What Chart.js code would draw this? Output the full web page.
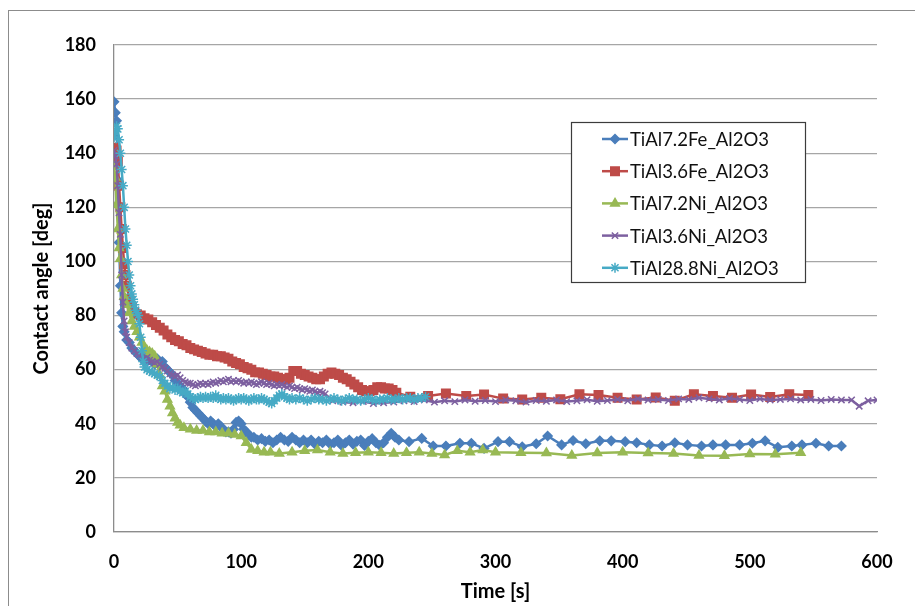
<!DOCTYPE html>
<html>
<head>
<meta charset="utf-8">
<script src="https://cdn.jsdelivr.net/npm/chart.js@4"></script>
<style>
  html, body { margin: 0; padding: 0; background: #fff; }
  #wrap { width: 915px; height: 606px; }
</style>
</head>
<body>
<div id="wrap"><canvas id="chart" width="915" height="606"></canvas></div>
<script>
// Contact angle vs time, values as [time s, angle deg]
const seriesNames = ['TiAl7.2Fe_Al2O3', 'TiAl3.6Fe_Al2O3', 'TiAl7.2Ni_Al2O3', 'TiAl3.6Ni_Al2O3', 'TiAl28.8Ni_Al2O3'];

const fe72 = [
  [0,159],[1,155],[2,152],[3,130],[4,107],[5,91],[6,81],[7,76],[8,74],[10,71],[12,70],[14,68],[16,67],[18,66],
  [20,65],[22,64],[24,65],[26,63],[28,64],[30,63],[32,62],[34,64],[36,62],[38,63],[40,61],[42,60],[44,59],
  [46,58],[48,56],[50,55],[52,54],[54,53],[56,51],[58,50],[60,48],[62,46],[64,45],[66,44],[68,43],[70,42],
  [72,41],[74,40],[76,41],[78,40],[80,39],[82,40],[84,39],[86,38],[88,37],[90,37],[92,36.5],[94,38],[96,40.5],
  [98,41],[100,40],[102,38],[104,37],[106,36],[108,35],[110,35],[113,34],[116,34.5],[119,33.5],[122,34],
  [125,33],[128,34],[131,35],[134,34],[137,33.5],[140,35],[143,34],[146,33],[149,34],[152,33],[155,34],
  [158,32.5],[161,33.5],[164,33],[167,34],[170,32.5],[173,33],[176,34],[179,32],[182,33],[185,34],[188,32.5],
  [191,33.5],[194,34],[197,32],[200,33.5],[203,34.5],[206,33],[209,32],[212,33],[215,35],[218,36.5],[221,35],
  [224,34],[232,33.4],[242,34.6],[251,31.8],[261,31.8],[272,32.8],[281,32.8],[291,30.9],[302,33.4],[311,33.4],
  [321,31.5],[332,32.6],[341,35.5],[352,32.2],[361,33.8],[371,32.6],[382,33.7],[391,33.7],[402,33.4],[411,33],
  [421,32.2],[431,31.8],[441,33],[451,32.2],[462,31.8],[471,32.2],[481,32.2],[492,32.2],[502,32.8],[512,33.7],
  [522,31.3],[533,31.8],[541,32.2],[552,32.8],[562,31.8],[572,31.8]
];

const fe36 = [
  [0,142],[2,141],[3,137],[4,128],[5,120],[6,112],[7,105],[8,99],[9,95],[10,91],[12,86],[14,83],[16,81],
  [18,80.5],[21,80],[24,79],[27,78.5],[30,77.5],[33,76.5],[36,75.5],[39,74.5],[42,73],[45,72],[48,71],
  [51,70.5],[54,69.5],[57,69],[60,68],[63,67.5],[66,67],[69,66.5],[72,66],[75,65.5],[78,65.5],[81,65],
  [84,65],[87,64.5],[90,64],[93,63],[96,62.5],[99,62],[102,61],[105,60.5],[108,60],[111,59],[114,59],
  [117,58.5],[120,58],[123,57.5],[126,57.5],[129,57],[132,56.5],[135,56.5],[138,57],[141,59.5],[144,59.5],
  [147,58.5],[150,58],[153,57.5],[156,57],[159,56.5],[162,56.5],[165,57.5],[168,58.5],[171,59],[174,58.5],
  [177,58],[180,57],[183,56.5],[186,55.5],[189,54.5],[192,53.5],[195,52.5],[198,52],[201,52],[204,52.5],
  [207,53.5],[210,53.5],[213,53],[216,53],[219,52.5],[222,51.5],[233,50],[247,50.3],[261,51.2],[277,50.3],
  [291,50.8],[306,49.3],[321,49],[336,49.6],[351,49.1],[366,50.9],[381,50.6],[396,49.6],[411,49],[426,49.7],
  [441,48.5],[456,50.9],[471,50.3],[486,49.6],[501,50.8],[516,49.9],[531,50.9],[546,50.6]
];

const ni72 = [
  [0,135],[1,131],[2,121],[3,112],[4,105],[5,101],[6,95],[7,90],[8,87],[10,84],[12,81],[14,78],[16,76],
  [18,74],[20,72],[22,70],[24,68],[26,67],[28,66.5],[30,66],[32,65],[34,62],[36,58],[38,54],[40,52],[42,49],
  [44,46.5],[46,44],[48,42],[50,40.5],[52,39.5],[55,38.5],[60,38],[65,37.5],[70,37.5],[75,37],[80,37],
  [85,36.5],[90,36.5],[95,36],[100,35.5],[104,33],[108,30.5],[113,30],[118,29.5],[123,29.5],[130,29],
  [140,29.5],[150,30],[160,30.3],[170,29.5],[180,29],[190,29.3],[200,29.5],[210,29.3],[220,29],[230,29.3],
  [240,29.5],[250,29],[260,28.5],[270,30],[280,29.5],[290,30.3],[300,29.5],[320,29.3],[340,29.2],[360,28.3],
  [380,29.2],[400,29.5],[420,29.2],[440,29],[460,28.3],[480,28.2],[500,28.8],[520,28.7],[540,29.3]
];

const ni36 = [
  [0,141],[1,139],[2,136],[3,128],[4,118],[5,110],[6,95],[7,85],[8,78],[9,74],[10,72],[12,70],[14,68],
  [16,67],[18,66],[20,65.5],[22,65],[24,64],[26,64.5],[28,63.5],[30,63],[32,62.5],[34,63],[36,62],[38,61],
  [40,60.5],[42,59.5],[44,58.5],[46,58],[48,57.5],[50,58],[52,57],[54,56],[56,55.5],[58,55],[60,55],
  [62,54.5],[64,54],[66,54.5],[68,55],[70,54.5],[72,55],[74,54.5],[76,55],[78,55.5],[80,55],[82,55.5],
  [84,56],[86,55.5],[88,56],[90,56.5],[92,55.5],[94,56],[96,55.5],[98,56],[100,55.5],[102,55],[104,55.5],
  [106,55],[108,55.5],[110,55],[112,54.5],[114,55],[116,55.5],[118,55],[120,54.5],[122,55],[124,54.5],
  [126,54],[128,54.5],[130,54],[132,54.5],[134,54],[136,53.5],[138,54],[140,53.5],[142,53],[144,53.5],
  [146,53],[148,52.5],[150,53],[152,52.5],[154,52],[156,52.5],[158,52],[160,51.5],[162,52],[164,51.5],
  [166,51],[172,48.5],[180,48],[188,47.8],[196,48.2],[204,47.5],[212,47.8],[220,48],[228,48.5],[236,48.2],
  [244,48.8],[252,48],[260,48.5],[268,48.2],[276,48.8],[284,48.3],[292,48.6],[300,48.2],[308,48.8],
  [316,48.5],[324,48],[332,48.6],[340,48.3],[348,48.8],[356,48.2],[364,48.5],[372,48.9],[380,48.3],
  [388,48.6],[396,49],[404,48.5],[412,49.2],[420,48.8],[428,49],[436,48.6],[444,49.2],[452,49],[460,49.6],
  [468,49.2],[476,48.8],[484,49.4],[492,49],[500,48.6],[508,49.2],[516,48.8],[524,49],[532,49.2],[540,48.8],
  [548,49],[556,48.6],[564,49],[572,48.8],[580,48.8],[586,46.5],[593,48.5],[600,48.8]
];

const ni288 = [
  [0,146],[1,148],[2,150],[3,149],[4,145],[5,140],[6,134],[7,128],[8,120],[9,112],[10,106],[11,100],
  [12,95],[13,91],[14,88],[15,86],[16,84],[17,82],[18,81],[19,80],[20,77],[21,72],[22,67],[23,63],[24,61],
  [26,60],[28,59.5],[30,59],[32,58.5],[34,58],[36,57.5],[38,56],[40,55],[42,54],[44,53],[46,53.5],[48,52.5],
  [50,53],[52,52],[54,51.5],[56,52],[58,51],[60,50],[62,49.5],[64,49],[66,49.5],[68,50],[70,49.5],[72,50],
  [74,49.5],[76,50],[78,49.5],[80,50.5],[82,49.5],[84,49],[86,49.5],[88,49],[90,49.5],[92,49],[94,48.5],
  [96,49],[98,49.5],[100,49],[102,49.5],[104,49],[106,48.5],[108,49],[110,49.5],[112,49],[114,49],[116,49.5],
  [118,49],[120,48.5],[122,48],[124,47.5],[126,48.5],[128,49.5],[130,50.5],[132,51],[134,50],[136,49.5],
  [138,49],[140,49.5],[143,49],[146,49.5],[149,49],[152,48.5],[155,49],[158,49.5],[161,49],[164,49],
  [167,48.5],[170,49],[173,49.5],[176,49],[179,48.5],[182,49],[185,49.5],[188,49],[191,49],[194,48.5],
  [197,49],[200,49.5],[203,49],[206,48.5],[209,49],[212,49],[215,49.5],[218,49],[221,49],[224,49.5],
  [227,49],[230,49.5],[233,49.5],[236,49],[239,49.5],[242,49.5],[245,50]
];

const xTicks = { min: 0, max: 600, step: 100 };
const yTicks = { min: 0, max: 180, step: 20 };

const colors = ['#4a7ebb', '#be4b48', '#98b954', '#7d60a0', '#46aac5'];
const markers = ['rectRot', 'rect', 'triangle', 'crossRot', 'star'];
const markerSize = [4.5, 6, 5, 4.5, 5];
const allSeries = [fe72, fe36, ni72, ni36, ni288];

const tickFont = { family: 'Lato', size: 18, weight: 'bold' };
const titleFont = { family: 'Lato', size: 20, weight: 'bold' };

// frame around the chart and the boxed legend inside the plot
const extras = {
    id: 'extras',
    afterDraw(chart) {
        const ctx = chart.ctx;
        ctx.save();
        ctx.strokeStyle = '#8c8c8c';
        ctx.lineWidth = 1;
        ctx.strokeRect(8.5, 10.5, 1000, 700);

        const bx = 571.5, by = 122.5, bw = 234, bh = 160;
        ctx.fillStyle = '#fff';
        ctx.fillRect(bx, by, bw, bh);
        ctx.strokeStyle = '#3c3c3c';
        ctx.lineWidth = 1.2;
        ctx.strokeRect(bx, by, bw, bh);

        ctx.font = '18.5px Lato';
        ctx.textBaseline = 'middle';
        chart.data.datasets.forEach((ds, i) => {
            const y = 139 + i * 32.2;
            ctx.strokeStyle = ds.borderColor;
            ctx.lineWidth = 2.5;
            ctx.beginPath();
            ctx.moveTo(602, y);
            ctx.lineTo(628, y);
            ctx.stroke();
            ctx.fillStyle = ds.backgroundColor;
            ctx.lineWidth = 1.5;
            Chart.helpers.drawPoint(ctx, {
                pointStyle: ds.pointStyle, radius: ds.pointRadius, borderWidth: 1.5, rotation: 0
            }, 615, y);
            ctx.fillStyle = '#111';
            ctx.fillText(ds.label, 630, y + 1);
        });
        ctx.restore();
    }
};

new Chart(document.getElementById('chart'), {
    type: 'scatter',
    data: {
        datasets: allSeries.map((s, i) => ({
            label: seriesNames[i],
            data: s.map(p => ({ x: p[0], y: p[1] })),
            showLine: true,
            borderColor: colors[i],
            backgroundColor: colors[i],
            borderWidth: 2.5,
            pointStyle: markers[i],
            pointRadius: markerSize[i],
            pointBorderWidth: 1.5,
            pointHoverRadius: markerSize[i],
            order: 5 - i
        }))
    },
    options: {
        responsive: false,
        animation: false,
        devicePixelRatio: 1,
        layout: { padding: { top: 45, right: 38, left: 0, bottom: 0 } },
        plugins: {
            legend: { display: false },
            tooltip: { enabled: false }
        },
        scales: {
            x: {
                type: 'linear',
                min: xTicks.min,
                max: xTicks.max,
                afterFit: s => { s.height = 74; },
                grid: { display: false, drawTicks: false },
                border: { display: true, color: '#8c8c8c', width: 1.3 },
                ticks: { stepSize: xTicks.step, padding: 19, color: '#000', font: tickFont },
                title: { display: true, text: 'Time [s]', color: '#000', font: titleFont, padding: { top: 0, bottom: 2 } }
            },
            y: {
                min: yTicks.min,
                max: yTicks.max,
                afterFit: s => { s.width = 114; },
                grid: { color: '#a6a6a6', lineWidth: 1.3, drawTicks: false },
                border: { display: true, color: '#8c8c8c', width: 1.3 },
                ticks: { stepSize: yTicks.step, padding: 18, color: '#000', font: tickFont },
                title: { display: true, text: 'Contact angle [deg]', color: '#000', font: titleFont, padding: { top: 30, bottom: 0 } }
            }
        }
    },
    plugins: [extras]
});
</script>
</body>
</html>
